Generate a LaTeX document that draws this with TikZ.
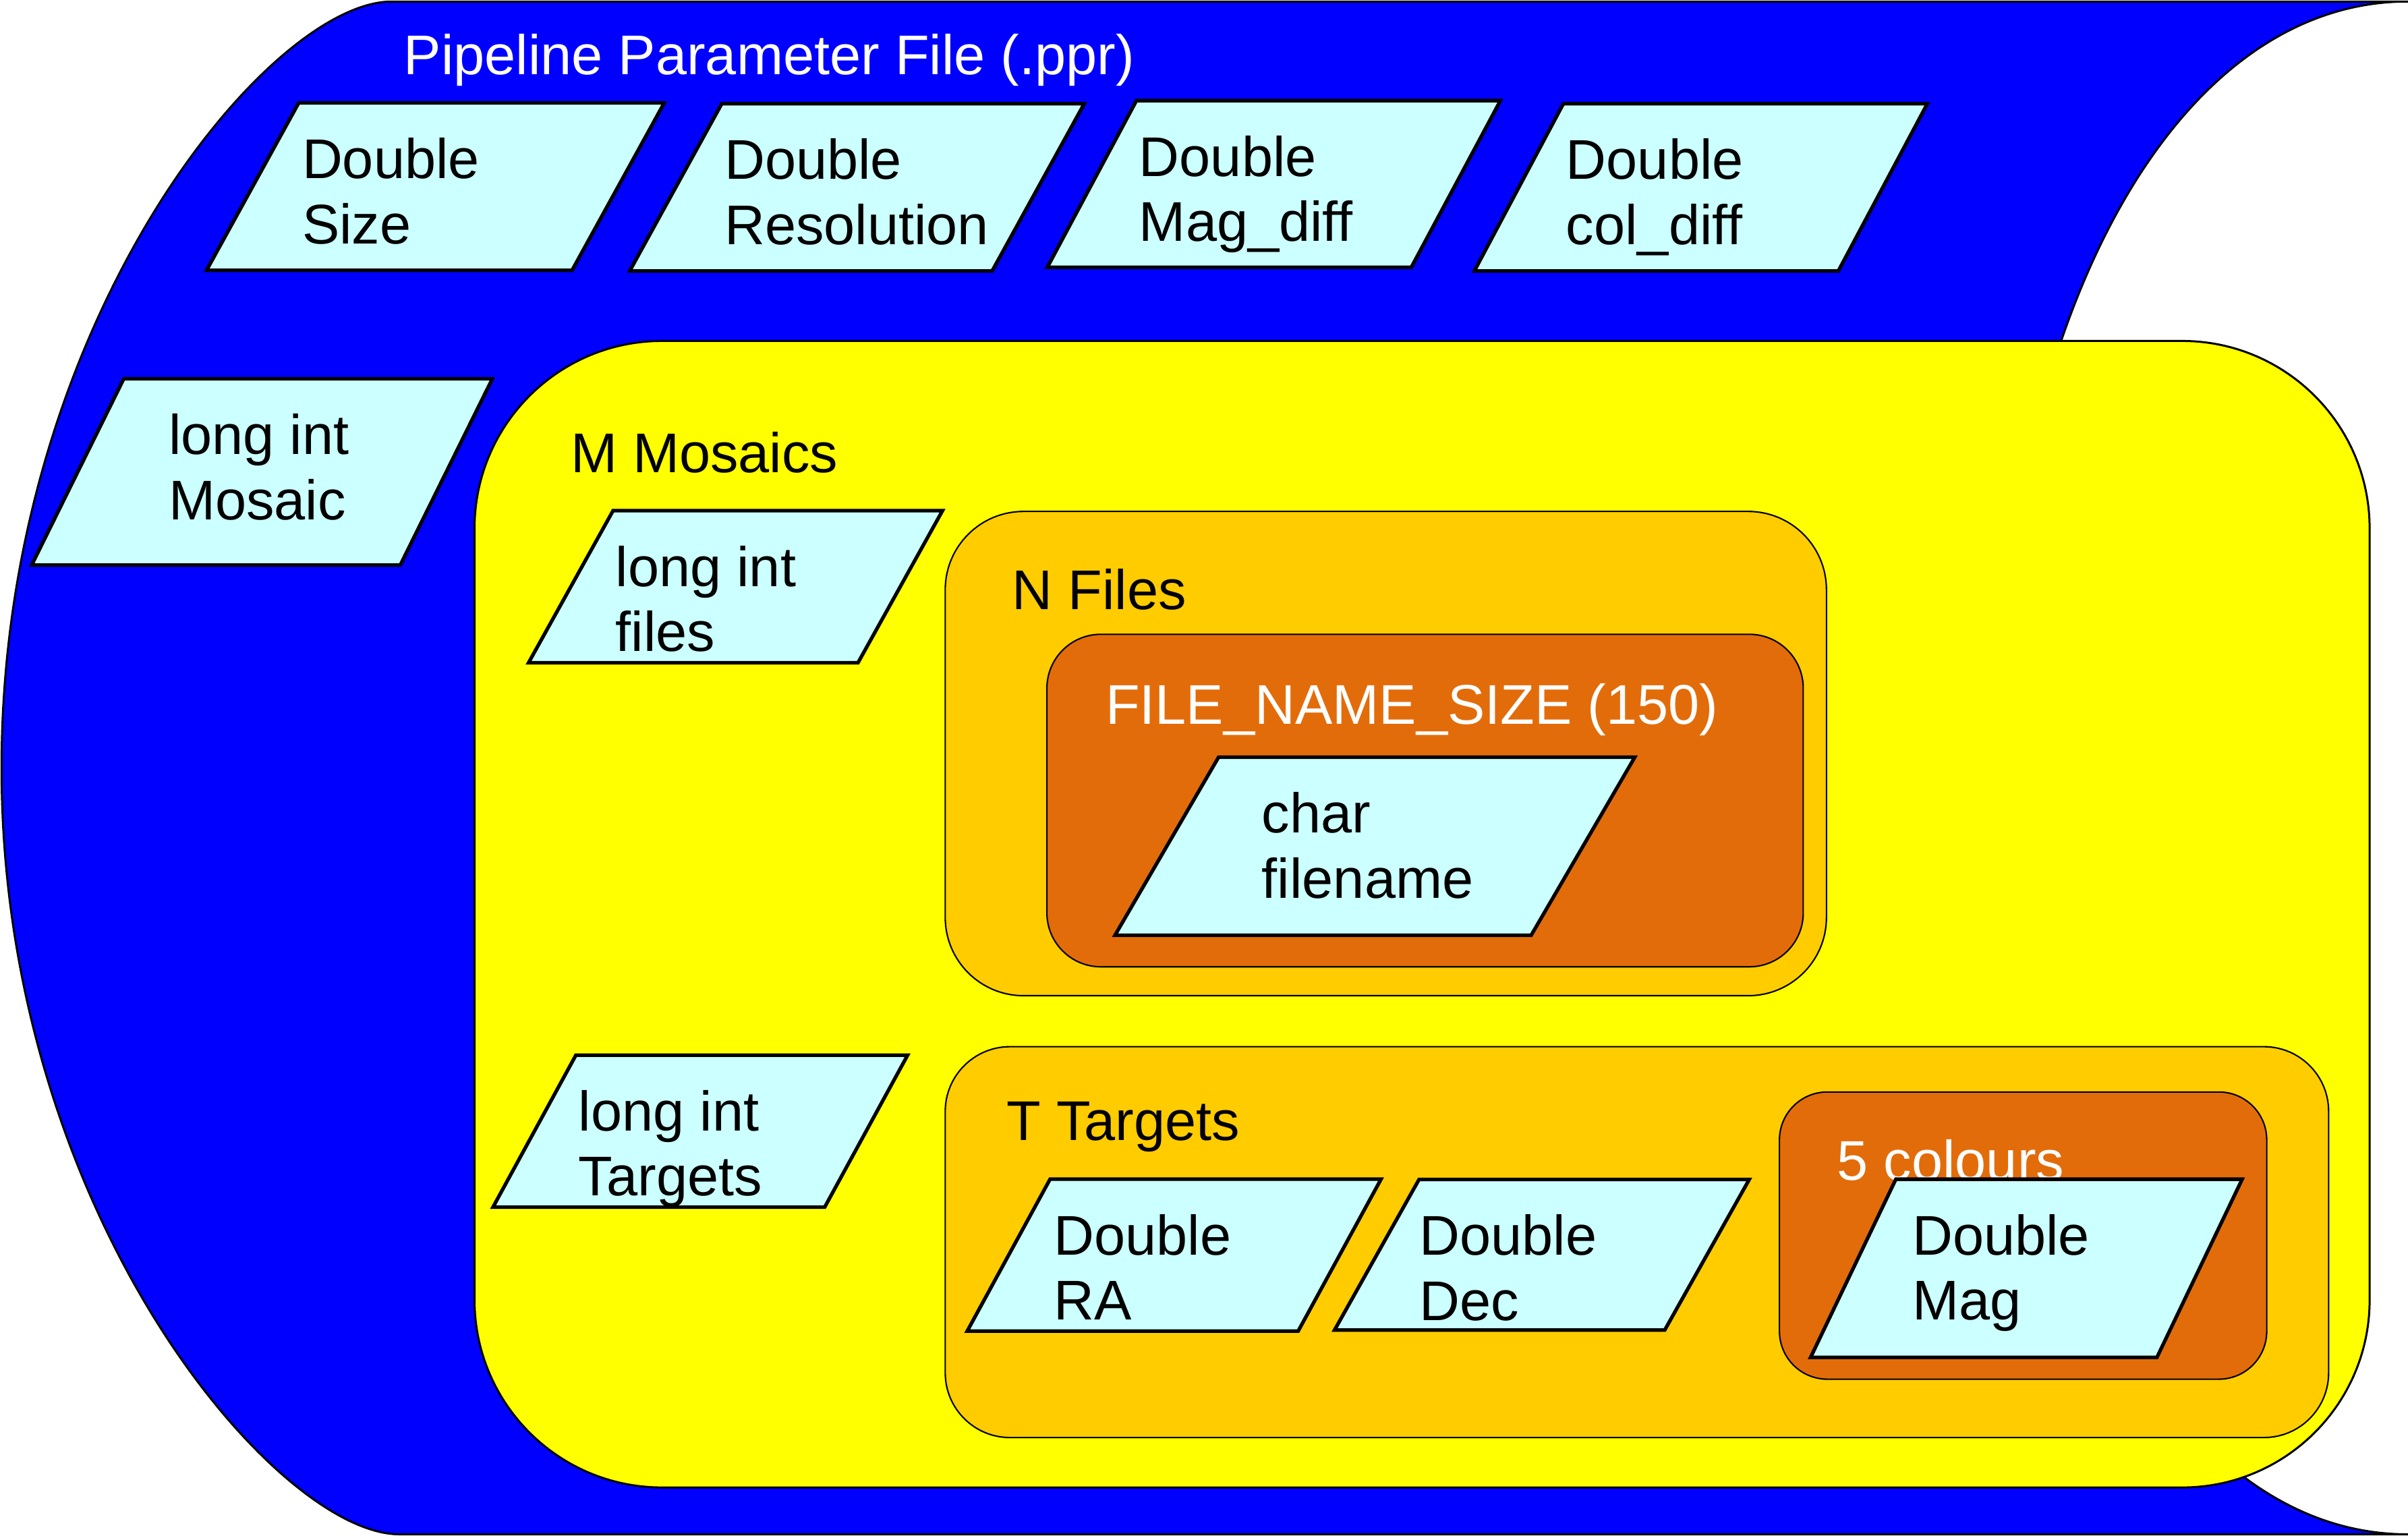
\documentclass[tikz,border=0pt]{standalone}
\usepackage{fontspec}
\setmainfont{Liberation Sans}
\definecolor{PPRblue}{RGB}{0,0,255}
\definecolor{PPRyellow}{RGB}{255,255,0}
\definecolor{PPRgold}{RGB}{255,204,0}
\definecolor{PPRrust}{RGB}{227,108,10}
\definecolor{PPRcyan}{RGB}{204,255,255}
\tikzstyle{PPRfile}=[fill=PPRblue, draw=black, line width=0.85pt]
\tikzstyle{PPRmosaics}=[fill=PPRyellow, draw=black, line width=0.85pt, rounded corners=27.8mm]
\tikzstyle{PPRgroup}=[fill=PPRgold, draw=black, line width=0.6pt]
\tikzstyle{PPRarray}=[fill=PPRrust, draw=black, line width=0.6pt]
\tikzstyle{PPRfield}=[fill=PPRcyan, draw=black, line width=1.5pt]
\tikzstyle{PPRtext}=[inner sep=0pt, font={\fontsize{23.6}{27.4}\selectfont}, text=black]
\tikzstyle{PPRfieldtext}=[PPRtext, align=left, anchor=north west]
\tikzstyle{PPRtitle}=[PPRtext, anchor=base west]

\begin{document}
\begin{tikzpicture}[x=0.22768mm, y=-0.22768mm]
    \path [use as bounding box, fill=white] (0,0) rectangle (1568,1001);
    % parameter file
    \path [PPRfile] (255,1) -- (1568,1) .. controls (1410,1) and (1300,220) .. (1300,500)
        .. controls (1300,780) and (1410,999) .. (1568,999) -- (260,999)
        .. controls (180,999) and (1,790) .. (1,500)
        .. controls (1,210) and (175,1) .. (255,1) -- cycle;
    \node [PPRtitle, text=white] (ppr) at (262.7,48.6) {Pipeline Parameter File (.ppr)};

    \path [PPRfield] (194.5,67) -- ++(238,0) -- ++(-60,109) -- ++(-238,0) -- cycle;
    \node [PPRfieldtext] (size) at (196.5,86.4) {Double\strut\\Size\strut};
    \path [PPRfield] (470,67.5) -- ++(236,0) -- ++(-60,109) -- ++(-236,0) -- cycle;
    \node [PPRfieldtext] (resolution) at (471.5,86.9) {Double\strut\\Resolution\strut};
    \path [PPRfield] (740,65.5) -- ++(237,0) -- ++(-58,108.5) -- ++(-237,0) -- cycle;
    \node [PPRfieldtext] (magdiff) at (741.5,84.9) {Double\strut\\Mag\_diff\strut};
    \path [PPRfield] (1018,67.5) -- ++(237,0) -- ++(-58,109) -- ++(-237,0) -- cycle;
    \node [PPRfieldtext] (coldiff) at (1019.5,86.9) {Double\strut\\col\_diff\strut};

    \path [PPRfield] (80.6,246.6) -- ++(240,0) -- ++(-60,121.4) -- ++(-240,0) -- cycle;
    \node [PPRfieldtext] (mosaic) at (109.5,266) {long int\strut\\Mosaic\strut};

    % mosaics
    \path [PPRmosaics] (309,222) rectangle (1543,968.5);
    \node [PPRtitle] (mosaics) at (371.3,307.6) {M Mosaics};
    \path [PPRfield] (399.2,332.5) -- ++(214.5,0) -- ++(-55,99) -- ++(-214.5,0) -- cycle;
    \node [PPRfieldtext] (nfiles) at (400.6,351.9) {long int\strut\\files\strut};
    \path [PPRfield] (375,687) -- ++(216,0) -- ++(-54,99) -- ++(-216,0) -- cycle;
    \node [PPRfieldtext] (ntargets) at (376.5,706.4) {long int\strut\\Targets\strut};

    % files
    \path [PPRgroup, rounded corners=11.6mm] (615.5,333) rectangle (1189.3,648.3);
    \node [PPRtitle] (files) at (658.9,397) {N Files};
    \path [PPRarray, rounded corners=8mm] (681.7,413) rectangle (1174.2,629.5);
    \node [PPRtitle, text=white] (namesize) at (719.6,471.7) {FILE\_NAME\_SIZE (150)};
    \path [PPRfield] (793.5,493) -- ++(271,0) -- ++(-67.5,116) -- ++(-271,0) -- cycle;
    \node [PPRfieldtext] (filename) at (821.4,512.4) {char\strut\\filename\strut};

    % targets
    \path [PPRgroup, rounded corners=9.6mm] (615.5,681.5) rectangle (1516.3,936);
    \node [PPRtitle] (targets) at (655.2,742.3) {T Targets};
    \path [PPRfield] (683.8,767.7) -- ++(215.5,0) -- ++(-54,99) -- ++(-215.5,0) -- cycle;
    \node [PPRfieldtext] (ra) at (686,787.1) {Double\strut\\RA\strut};
    \path [PPRfield] (924,768) -- ++(215,0) -- ++(-55,98) -- ++(-215,0) -- cycle;
    \node [PPRfieldtext] (dec) at (924,787.4) {Double\strut\\Dec\strut};
    \path [PPRarray, rounded corners=7.1mm] (1158.7,711) rectangle (1476,898);
    \node [PPRtitle, text=white] (colours) at (1196,768.6) {5 colours};
    \path [PPRfield] (1234.5,767.8) -- ++(225.5,0) -- ++(-55.5,116) -- ++(-225.5,0) -- cycle;
    \node [PPRfieldtext] (mag) at (1245,787.2) {Double\strut\\Mag\strut};
\end{tikzpicture}
\end{document}
